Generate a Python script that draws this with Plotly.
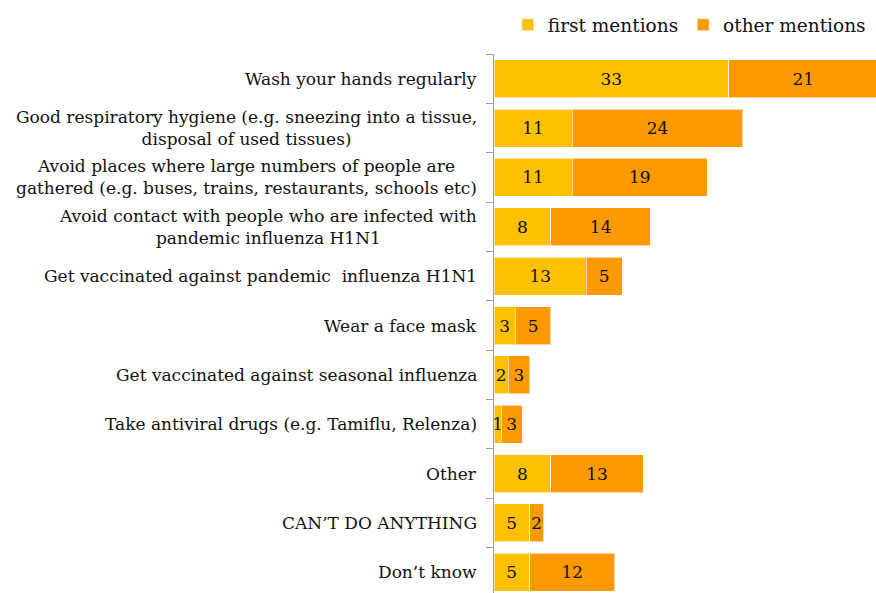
import plotly.graph_objects as go

categories = [
    "Wash your hands regularly",
    "Good respiratory hygiene (e.g. sneezing into a tissue,<br>disposal of used tissues)",
    "Avoid places where large numbers of people are<br>gathered (e.g. buses, trains, restaurants, schools etc)",
    "Avoid contact with people who are infected with<br>pandemic influenza H1N1",
    "Get vaccinated against pandemic  influenza H1N1",
    "Wear a face mask",
    "Get vaccinated against seasonal influenza",
    "Take antiviral drugs (e.g. Tamiflu, Relenza)",
    "Other",
    "CAN\u2019T DO ANYTHING",
    "Don\u2019t know",
]
first_mentions = [33, 11, 11, 8, 13, 3, 2, 1, 8, 5, 5]
other_mentions = [21, 24, 19, 14, 5, 5, 3, 3, 13, 2, 12]

FONT = "DejaVu Serif"
ids = [str(i) for i in range(len(categories))]

fig = go.Figure()
for name, vals, col in [("first mentions", first_mentions, "#FFC000"),
                        ("other mentions", other_mentions, "#FF9900")]:
    fig.add_trace(go.Bar(
        y=ids, x=vals, name=name, orientation="h",
        marker=dict(color=col, line=dict(color="rgba(255,255,255,0.6)", width=1)),
        text=[str(v) for v in vals], textposition="inside", insidetextanchor="middle",
        textangle=0, constraintext="none", cliponaxis=False,
        textfont=dict(family=FONT, size=17, color="#111111"),
    ))

# category labels as annotations so the wrapped lines stay centred
for i, c in zip(ids, categories):
    fig.add_annotation(x=0, xref="paper", xanchor="right", xshift=-15,
                       y=i, yref="y", text=c, showarrow=False, align="center",
                       font=dict(family=FONT, size=17, color="#111111"))

# chart runs a little past the bottom/right edge, like the original
fig.update_layout(
    width=878, height=597,
    margin=dict(l=494, r=0, t=54, b=0),
    barmode="stack", bargap=0.23,
    plot_bgcolor="white", paper_bgcolor="white",
    font=dict(family=FONT, color="#111111"),
    legend=dict(orientation="h", x=0.036, xanchor="left", y=1.053, yanchor="middle",
                font=dict(size=18.5), itemwidth=30, traceorder="normal"),
    showlegend=True,
)
fig.update_xaxes(range=[0, 54], visible=False)
fig.update_yaxes(autorange="reversed", showticklabels=False, showline=True,
                 linecolor="#a0a0a0", linewidth=1, ticks="outside", ticklen=7,
                 tickcolor="#a0a0a0", tickson="boundaries", showgrid=False,
                 automargin=False)

fig.write_html("out.html", config={"displayModeBar": False},
               post_script="document.body.style.margin='0';document.body.style.overflow='hidden';")
